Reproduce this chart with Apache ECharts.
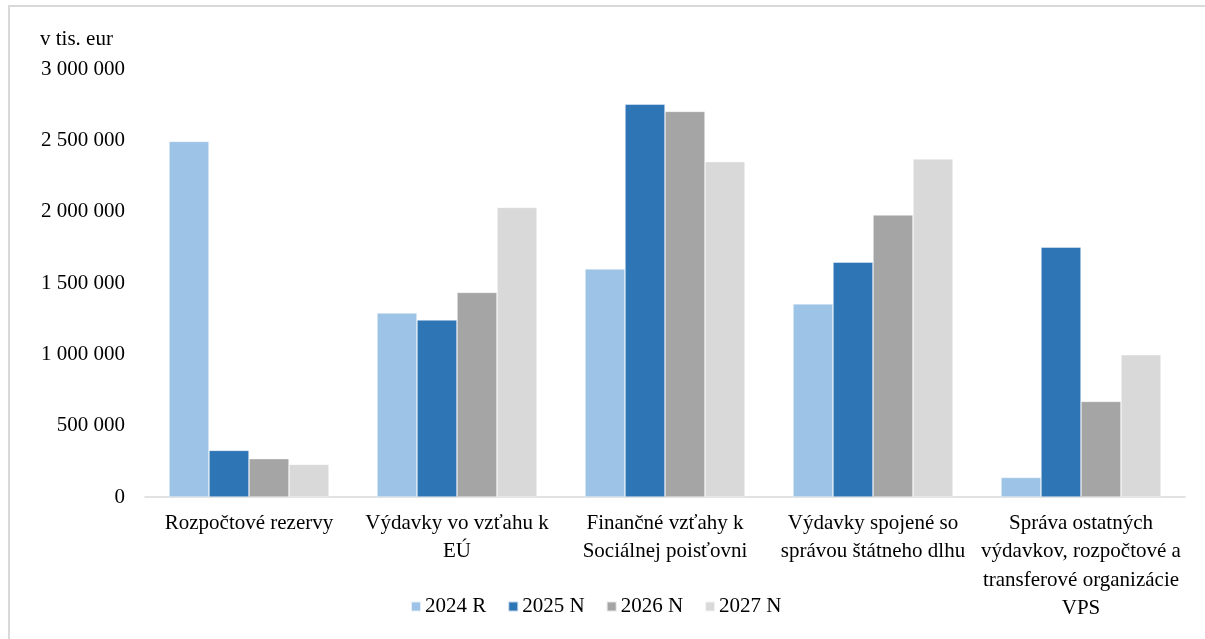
<!DOCTYPE html>
<html>
<head>
<meta charset="utf-8">
<script src="https://cdn.jsdelivr.net/npm/echarts@6/dist/echarts.min.js"></script>
<style>
html,body{margin:0;padding:0;background:#fff;}
#chart{width:1205px;height:639px;}
</style>
</head>
<body>
<div id="chart"></div>
<script>
var categories = [
  'Rozpočtové rezervy',
  'Výdavky vo vzťahu k\nEÚ',
  'Finančné vzťahy k\nSociálnej poisťovni',
  'Výdavky spojené so\nsprávou štátneho dlhu',
  'Správa ostatných\nvýdavkov, rozpočtové a\ntransferové organizácie\nVPS'
];
var seriesNames = ['2024 R', '2025 N', '2026 N', '2027 N'];
var values2024R = [2493000, 1290000, 1599000, 1354000, 137000];
var values2025N = [327000, 1241000, 2753000, 1646000, 1751000];
var values2026N = [269000, 1434000, 2703000, 1977000, 670000];
var values2027N = [229000, 2030000, 2351000, 2370000, 997000];
var yTicks = [0, 500000, 1000000, 1500000, 2000000, 2500000, 3000000];
var colors = ['#9DC3E6', '#2E75B6', '#A5A5A5', '#D9D9D9'];

var FONT = '"Liberation Serif", "Times New Roman", serif';
var FS = 21;
function fmt(v){ return String(v).replace(/\B(?=(\d{3})+(?!\d))/g, ' '); }

var allValues = [values2024R, values2025N, values2026N, values2027N];
var chart = echarts.init(document.getElementById('chart'));
chart.setOption({
  animation: false,
  backgroundColor: '#fff',
  textStyle: { fontFamily: FONT, color: '#000' },
  graphic: [
    { type: 'rect', shape: { x: 9, y: 6, width: 1205, height: 640 },
      style: { fill: 'none', stroke: '#D9D9D9', lineWidth: 2 }, silent: true },
    { type: 'text', left: 40, top: 29,
      style: { text: 'v tis. eur', font: FS + 'px ' + FONT, fill: '#000' } }
  ],
  grid: { left: 145, right: 20, top: 69, bottom: 142, containLabel: false },
  legend: {
    left: 405, top: 591,
    itemWidth: 10, itemHeight: 10, itemGap: 21,
    icon: 'rect',
    textStyle: { fontFamily: FONT, fontSize: FS, color: '#000', padding: [0, 0, 0, -1] },
    data: seriesNames
  },
  xAxis: {
    type: 'category',
    data: categories,
    axisLine: { lineStyle: { color: '#D9D9D9', width: 1.5 } },
    axisTick: { show: false },
    axisLabel: { interval: 0, margin: 12, fontFamily: FONT, fontSize: FS, color: '#000', lineHeight: 28.5 }
  },
  yAxis: {
    type: 'value',
    min: yTicks[0], max: yTicks[yTicks.length - 1], interval: yTicks[1] - yTicks[0],
    axisLine: { show: false },
    axisTick: { show: false },
    splitLine: { show: false },
    axisLabel: { margin: 20, fontFamily: FONT, fontSize: FS, color: '#000', formatter: fmt }
  },
  series: seriesNames.map(function(name, i){
    return {
      name: name,
      type: 'bar',
      data: allValues[i],
      barWidth: 40,
      barGap: '0%',
      itemStyle: { color: colors[i], borderColor: 'rgba(255,255,255,0.7)', borderWidth: 0.6 }
    };
  })
});
</script>
</body>
</html>
